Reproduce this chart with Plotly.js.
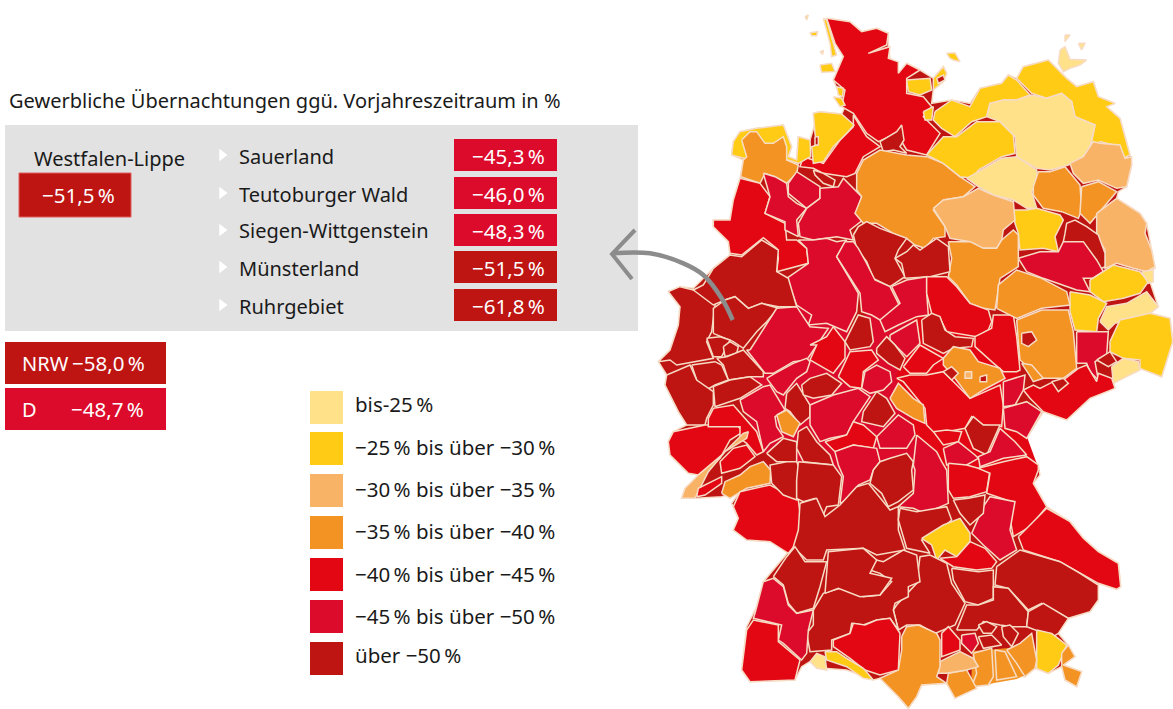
<!DOCTYPE html>
<html><head><meta charset="utf-8">
<script src="https://cdn.plot.ly/plotly-3.0.1.min.js"></script>
<style>html,body{margin:0;padding:0;background:#fff}#c{width:1173px;height:709px}</style>
</head><body><div id="c"></div>
<script>
// ---------- content ----------
const chartTitle = "Gewerbliche Übernachtungen ggü. Vorjahreszeitraum in %";
const regionName = "Westfalen-Lippe";
const regionValue = "−51,5\u2009%";
const subregions = ["Sauerland","Teutoburger Wald","Siegen-Wittgenstein","Münsterland","Ruhrgebiet"];
const subregionValues = ["−45,3\u2009%","−46,0\u2009%","−48,3\u2009%","−51,5\u2009%","−61,8\u2009%"];
const subregionClasses = [5,5,5,6,6];
const legendLabels = ["bis-25\u2009%","−25\u2009% bis über −30\u2009%","−30\u2009% bis über −35\u2009%","−35\u2009% bis über −40\u2009%","−40\u2009% bis über −45\u2009%","−45\u2009% bis über −50\u2009%","über −50\u2009%"];
const classColors = ["#ffe18a","#ffcb14","#f8b366","#f39323","#e30613","#dc0b2c","#be1513"];
const borderColor = "#f7dcc5";

// ---------- map outlines: [class, flat u,v list], u/v are map units ----------
const silhouette = [530,55,600,65,635,95,680,85,715,100,715,135,720,175,745,190,745,225,770,190,810,210,845,232,850,235,880,200,890,220,880,245,850,270,845,310,905,300,960,310,990,265,1055,250,1075,225,1100,235,1120,200,1195,180,1250,235,1280,260,1330,245,1345,290,1395,310,1370,320,1410,355,1440,465,1445,495,1430,560,1405,575,1400,595,1470,640,1490,670,1505,750,1515,805,1490,815,1525,920,1500,940,1560,955,1568,1025,1535,1130,1470,1105,1390,1150,1395,1165,1320,1195,1250,1260,1180,1235,1130,1315,1100,1295,1095,1315,1165,1395,1170,1425,1150,1450,1190,1520,1260,1565,1300,1615,1345,1655,1405,1690,1412,1760,1400,1768,1345,1750,1345,1800,1320,1835,1255,1855,1225,1900,1250,1930,1275,1970,1240,1995,1295,2015,1280,2060,1245,2040,1235,2000,1195,2020,1155,2005,1125,2030,1100,2030,1040,2040,1015,2055,965,2060,915,2095,890,2050,815,2055,800,2090,775,2125,745,2090,690,2035,670,2040,590,2010,520,2005,480,1985,455,2000,435,2040,300,2045,275,2010,290,1880,320,1820,340,1745,420,1650,360,1625,290,1620,250,1590,265,1555,245,1510,270,1475,215,1490,140,1495,95,1495,105,1465,150,1425,115,1420,60,1365,55,1325,70,1295,110,1275,85,1235,45,1155,50,1125,25,1085,60,1050,85,975,90,920,55,875,90,860,130,865,195,800,240,765,235,725,190,680,190,660,240,660,250,600,270,535,280,480,245,465,250,425,270,395,320,385,400,375,425,440,415,470,440,480,445,410,480,420,495,370,490,340,510,335,575,342,585,320,550,240,580,170,555,130];

// broad colour beds under the regions, so that slivers between outlines take the local colour
const underlays = [
 [5,[300,1055,440,920,600,995,725,865,830,830,830,1035,740,1135,800,1345,790,1420,555,1425,340,1355,270,1200]],
 [4,[830,830,1025,965,1110,1110,1060,1225,1130,1315,1165,1410,895,1425,800,1305,740,1135]],
 [3,[970,1955,1150,1940,1155,2005,1100,2035,1015,2050,965,2060]]
];

const regionsNorth = [
 [4,[530,55,600,65,635,95,680,85,715,100,710,135,655,160,720,140,715,175,745,185,745,220,770,190,810,210,770,235,770,280,820,290,845,320,820,350,870,400,830,465,770,450,740,400,685,425,650,400,610,340,575,320,585,270,550,240,580,170,555,130]],
 [4,[610,345,650,410,690,440,640,470,615,520,590,530,520,520,490,505,450,500,460,470,520,490,570,420,610,380]],
 [1,[520,55,530,60,560,165,545,170,540,130]],
 [1,[480,98,503,95,500,107,485,107]],[1,[465,50,475,45,470,60]],[1,[510,155,520,152,518,162]],
 [1,[510,195,545,190,555,215,515,217]],[1,[550,290,575,295,585,315,570,320]],[1,[560,260,580,265,578,290,565,285]],
 [1,[890,160,915,158,930,185,910,180,900,175]],[1,[770,240,840,235,845,270,810,285,775,275]],[1,[850,235,880,200,890,220,880,245,850,270]],
 [6,[860,235,880,225,885,240,865,250]],[1,[820,335,850,320,845,360,825,360]],
 [6,[690,425,740,395,755,375,762,420,750,440,770,460,730,450,700,455]],
 [1,[490,340,510,335,575,342,612,375,590,400,570,420,550,440,520,485,490,490,485,440,500,435,495,400]],
 [6,[495,410,505,410,505,435,495,435]],
 [1,[245,465,250,425,270,395,320,385,400,375,425,440,415,470,440,480,445,410,480,420,482,470,445,490,415,480,300,480]],
 [3,[275,420,300,395,320,395,345,430,370,430,400,410,410,440,410,480,445,495,440,520,410,550,375,530,345,520,330,550,272,530,280,480,290,470]],
 [4,[270,535,330,550,360,590,345,640,405,670,410,720,440,720,470,745,475,790,380,815,385,775,380,745,340,713,325,725,275,765,240,760,235,725,190,680,190,660,240,660,250,600]],
 [5,[340,520,375,530,410,550,415,590,440,610,470,625,440,660,445,710,405,690,405,665,345,640,360,590]],
 [5,[415,550,440,515,510,560,510,595,470,625,440,600,415,580]],
 [5,[510,565,565,560,580,535,610,565,635,590,620,640,645,655,600,690,610,720,560,710,530,715,490,720,450,710,445,670,470,625,510,595]],
 [6,[490,510,520,520,555,540,550,560,520,550,495,525]],
 [3,[620,520,640,480,690,450,770,465,830,470,880,490,930,530,975,560,940,590,880,600,850,630,885,680,885,710,850,715,825,745,795,735,770,715,730,700,680,670,640,670,615,640,635,590,620,570]],
 [1,[830,465,880,410,920,410,980,365,1050,365,1090,405,1095,460,1055,470,985,510,970,535,930,530,880,490]],
 [1,[855,335,905,300,960,320,990,265,1055,250,1075,225,1100,240,1140,285,1100,300,1060,300,1020,310,1010,350,965,365,915,410,875,385,850,360]],
 [1,[1100,235,1120,200,1195,180,1220,205,1250,235,1280,260,1330,245,1345,290,1395,310,1370,320,1410,355,1440,465,1420,475,1410,440,1350,425,1320,450,1335,375,1275,350,1265,305,1235,280,1190,295,1145,280]],
 [0,[1010,350,1020,310,1060,300,1100,300,1145,285,1190,295,1235,280,1265,305,1275,350,1335,375,1320,440,1300,470,1255,495,1200,510,1160,505,1100,470,1095,410,1050,365]],
 [0,[950,535,985,515,1055,475,1100,470,1160,510,1165,550,1145,575,1160,625,1130,625,1090,600,1030,585,985,560]],
 [0,[1230,150,1245,140,1260,178,1310,180,1290,195,1260,205,1240,215,1225,190]],[0,[1245,105,1260,105,1245,125]],[0,[1285,130,1305,130,1295,150]],
 [2,[1260,490,1300,470,1330,425,1350,430,1410,435,1425,475,1445,470,1445,495,1430,560,1400,565,1345,540,1300,550,1270,520]],
 [3,[1150,560,1165,515,1200,515,1245,500,1290,555,1295,630,1285,655,1235,635,1180,625,1150,585]],
 [3,[1295,560,1345,545,1400,575,1345,640,1320,670,1290,640]],
 [2,[1340,640,1400,595,1470,640,1490,670,1485,700,1505,750,1515,800,1490,815,1450,805,1400,790,1365,805,1365,750,1340,705]],
 [1,[1090,630,1130,630,1160,625,1230,645,1240,660,1215,710,1225,755,1180,745,1110,750,1105,700,1095,670]],
 [2,[850,625,880,600,940,590,985,565,1030,585,1090,605,1095,660,1060,690,1055,720,1040,745,1000,745,960,725,900,715,885,680]],
 [3,[895,725,960,725,1000,745,1040,745,1055,720,1090,690,1105,705,1105,800,1050,835,1035,930,1000,925,960,910,920,855,895,830,905,775]],
 [6,[610,705,625,680,650,665,690,685,770,715,745,750,735,775,765,830,720,860,670,835,650,785,620,745]],
 [6,[735,775,770,755,790,735,810,750,860,715,895,740,900,815,840,830,765,835,755,790]],
 [6,[1245,700,1250,670,1275,660,1310,680,1345,705,1365,760,1365,800,1345,810,1305,745,1240,725]]
];

const regionsMiddle = [
 [5,[410,130,475,85,470,40,445,15,490,15,530,10,560,20,590,15,560,65,625,175,620,230,590,290,530,265,475,270,485,240,440,210]],
 [5,[585,20,610,20,625,40,650,85,675,135,720,155,750,215,720,245,690,255,665,240,635,230,630,175,560,65]],
 [5,[725,155,770,135,830,125,830,175,835,240,800,245,745,270,705,290,690,255,750,205]],
 [4,[830,125,890,125,920,155,960,205,1015,225,1025,260,1015,285,980,305,890,290,875,260,845,235,830,175]],
 [4,[975,305,1025,280,1030,240,1090,240,1100,305,1110,405,1100,410,1060,410,1025,380,975,335]],
 [5,[1105,70,1170,50,1225,50,1240,20,1300,20,1340,75,1360,110,1330,130,1300,130,1320,170,1280,165,1180,130,1130,110]],
 [1,[1320,135,1390,90,1430,100,1470,110,1495,140,1470,175,1420,190,1360,200,1320,170]],
 [0,[1475,110,1510,105,1510,140,1495,145]],
 [0,[1350,260,1370,215,1430,205,1490,170,1525,215,1500,235,1450,250,1395,265,1375,285]],
 [1,[1260,170,1320,180,1370,205,1345,250,1340,290,1275,285,1260,230]],
 [3,[1040,220,1045,150,1100,105,1175,130,1250,170,1260,210,1175,220,1100,250]],
 [3,[1100,255,1175,225,1255,225,1270,290,1280,400,1240,430,1175,430,1110,375,1105,320]],
 [6,[1115,295,1145,290,1160,315,1135,335,1115,325]],
 [3,[1115,385,1145,390,1180,430,1150,440,1135,415]],
 [1,[1380,320,1410,255,1500,235,1560,250,1568,320,1535,425,1470,400,1470,375,1420,370,1380,350]],
 [0,[1385,395,1420,370,1465,380,1470,405,1430,425,1390,445]],
 [5,[1280,290,1340,290,1375,290,1370,360,1335,380,1345,435,1320,410,1310,385,1280,385]],
 [6,[1340,375,1380,350,1400,380,1375,395]],
 [4,[1120,465,1150,450,1170,460,1210,440,1240,435,1285,400,1310,390,1340,440,1345,415,1385,430,1395,460,1320,490,1250,555,1180,530,1140,490]],
 [6,[1205,440,1240,430,1255,445,1225,470]],
 [6,[55,170,90,155,130,165,190,185,195,210,185,290,170,320,190,370,80,390,60,375,25,380,60,345,85,270,90,215]],
 [6,[190,100,240,60,275,65,335,15,385,45,380,110,415,130,440,215,385,215,335,205,295,220,255,185,225,195,190,210,130,165,160,150]],
 [6,[190,295,190,220,225,195,255,185,295,220,335,205,385,220,350,260,320,290,280,340,250,320]],
 [6,[170,310,210,305,240,315,215,365,190,365]],[6,[220,335,240,320,265,335,260,355,225,365]],
 [6,[200,370,230,365,280,345,340,410,340,425,300,425,235,435,220,390]],
 [6,[125,390,195,380,215,390,235,435,195,450,160,470,140,435]],
 [6,[45,450,50,420,120,390,140,435,190,470,190,510,170,550,165,570,110,570,85,530]],
 [6,[190,455,240,435,300,425,335,450,270,490,195,515]],
 [5,[300,345,380,220,440,215,480,275,535,280,500,330,470,375,430,380,370,415,345,415,290,345]],
 [4,[480,330,530,305,550,275,585,320,585,370,550,415,480,375,500,330]],
 [6,[585,320,625,240,660,250,670,320,660,335,600,345]],
 [5,[720,300,800,255,810,325,770,365,720,315]],
 [6,[815,255,845,235,870,245,885,285,915,305,970,310,965,335,910,340,880,355,820,325]],
 [6,[680,340,710,305,735,330,765,370,750,405,715,385,680,355]],
 [4,[760,395,810,330,880,370,850,390,830,415,780,415]],
 [4,[740,430,780,420,830,420,880,410,930,460,960,490,1050,450,1060,510,1055,575,1000,570,965,545,945,580,890,590,850,590,830,570,825,520,760,440]],
 [3,[880,370,910,335,960,345,985,380,1050,400,1065,430,1000,465,960,490,930,450,915,430,880,390]],
 [6,[880,410,905,395,925,415,905,435]],[2,[945,410,965,410,965,430,945,430]],[6,[990,425,1010,420,1010,440,990,440]],
 [3,[720,490,745,445,790,490,820,510,825,565,790,550,740,520]],
 [5,[1060,440,1125,420,1120,465,1095,510,1060,515]],
 [5,[1060,520,1130,500,1175,530,1130,610,1100,590,1065,580]],
 [6,[945,580,970,545,1000,570,1050,570,1010,660,970,640]],
 [4,[850,590,890,585,935,590,925,620,880,630]],
 [5,[880,640,925,620,975,660,985,670,950,690,890,690]],
 [5,[1050,580,1095,620,1130,660,1060,670,990,695,985,665,1020,650]],
 [5,[270,495,340,455,360,450,405,525,375,545,380,575,400,605,360,625,340,650,320,560,280,530]],
 [5,[350,430,375,415,430,385,470,370,480,380,470,410,440,430,400,480,380,470]],
 [6,[410,475,440,445,480,510,480,545,450,570,420,530,405,520]],
 [6,[455,450,480,430,530,415,575,445,545,480,490,490,460,480]],
 [4,[565,425,600,350,665,345,685,375,640,410,635,460,600,455]],
 [5,[635,460,645,410,680,390,720,410,725,440,700,465,660,475]],
 [5,[480,510,550,480,625,460,660,485,630,530,610,560,590,600,540,610,510,620,480,570]],
 [6,[640,530,665,490,680,470,710,490,735,535,700,575,660,565,635,560]],
 [3,[380,540,410,525,450,565,430,605,395,590]],
 [5,[680,605,745,540,790,570,795,600,770,640,690,640]],
 [4,[525,620,590,600,610,560,640,570,680,605,670,640,610,630,555,650]],
 [4,[55,620,70,590,165,570,260,570,280,590,240,615,210,670,145,720,115,715,60,660]],
 [4,[175,550,190,520,250,510,285,550,320,590,330,620,340,650,320,660,290,625,270,610,270,575,175,575]],
 [2,[95,790,105,760,150,715,215,660,280,595,295,590,290,610,225,650,175,710,135,790]],
 [4,[210,680,250,640,290,630,315,665,270,700,215,715]],
 [6,[350,655,400,610,440,620,440,680,380,680]],
 [6,[445,590,470,575,500,620,540,660,550,690,460,680,440,640]]
];

const regionsSouth = [
 [3,[215,70,225,35,270,15,300,-10,340,-25,362,0,360,40,290,55,240,85]],
 [4,[140,80,145,55,215,20,215,40,165,75]],
 [4,[250,110,270,65,360,45,445,90,455,170,440,220,415,250,360,215,290,210,250,180,265,145]],
 [6,[365,40,360,-15,410,-25,440,-25,450,0,440,30,440,90,400,75]],
 [6,[445,-25,550,-15,575,20,565,105,530,110,520,135,495,85,460,95,440,85,440,30]],
 [5,[555,-55,610,-75,680,-65,690,-25,670,0,660,30,625,45,590,90,570,100,580,20,565,-15]],
 [6,[670,0,690,-25,720,-35,770,-50,790,-25,785,0,790,60,745,95,715,110,695,70,660,40]],
 [5,[800,-105,860,-55,875,-25,890,0,895,100,825,130,790,115,745,110,790,70,795,0,790,-15]],
 [4,[895,-20,950,-15,985,-5,1020,0,1010,65,960,80,910,85,895,60]],
 [4,[1060,-25,1130,-40,1165,-15,1165,0,1150,40,1190,110,1140,170,1090,200,1070,90,1010,70,1020,10,985,-5]],
 [5,[965,190,1000,110,1020,80,1095,95,1080,180,1100,240,1050,270,1000,225]],
 [6,[910,90,955,85,1005,75,1000,130,960,165,930,130]],
 [6,[450,100,500,85,525,140,570,105,620,50,655,40,720,120,745,110,745,180,765,240,680,255,640,235,530,240,520,270,470,270,430,230,445,180]],
 [6,[750,115,800,125,890,110,905,150,850,195,815,210,840,250,770,235,745,150]],
 [1,[815,205,880,165,930,145,960,190,960,215,920,260,885,240,860,270,845,225]],
 [4,[920,260,960,215,1005,235,1040,275,1025,295,980,300,910,290,870,265]],
 [4,[1105,200,1190,115,1260,155,1300,205,1345,245,1405,280,1412,350,1400,358,1345,340,1290,310,1230,275,1120,240]],
 [6,[1040,290,1110,240,1230,275,1290,310,1345,345,1345,390,1320,425,1255,445,1175,400,1135,420,1075,355,1035,345]],
 [6,[905,295,985,305,1030,300,1030,385,985,405,945,395,910,330]],
 [6,[740,405,800,340,810,260,840,255,890,280,905,340,945,400,915,465,855,490,810,465,770,465,745,480,730,420]],
 [6,[920,480,950,405,985,405,1030,390,1030,350,1075,355,1135,425,1130,470,1090,470,1050,465,1000,455,980,480]],
 [6,[1135,425,1180,400,1255,445,1225,490,1210,500,1155,480,1130,470]],
 [1,[1160,480,1205,490,1250,525,1225,585,1195,610,1160,595]],
 [3,[1235,550,1255,525,1275,560,1240,585,1295,605,1280,650,1245,630,1235,590]],
 [3,[1070,540,1110,520,1145,490,1160,570,1155,595,1125,620,1100,580]],
 [3,[1035,540,1065,545,1100,620,1040,630]],
 [3,[970,550,1025,535,1030,620,1015,645,965,650,980,610]],
 [3,[895,610,950,600,980,655,915,685,890,640]],
 [2,[870,575,930,545,970,565,985,590,950,600,890,610,865,610]],
 [3,[755,500,770,470,805,465,860,490,870,510,870,590,860,620,890,640,815,645,800,680,775,715,745,680,690,625,745,600,755,540]],
 [4,[875,490,895,470,930,510,930,540,875,560]],
 [5,[935,495,975,490,985,520,965,550,935,520]],
 [6,[985,465,1010,455,1040,470,1025,490,1000,490]],[6,[985,500,1025,495,1055,525,1000,535]],[6,[1055,470,1080,465,1105,490,1085,530,1060,500]],
 [6,[490,420,520,370,570,355,640,380,690,375,725,335,690,310,660,300,680,270,700,275,760,240,800,255,810,335,775,350,775,380,735,400,730,420,745,480,720,445,680,450,640,465,605,460,600,490,545,510,545,540,480,545,470,490,490,465]],
 [6,[525,370,535,245,640,235,680,270,660,310,725,325,690,375,630,380,565,355]],
 [6,[370,320,410,260,435,230,465,275,530,275,510,350,490,415,440,430,415,400,400,345]],
 [5,[315,430,340,335,370,325,400,350,415,405,440,430,490,420,475,480,470,550,455,570,400,520,385,510,395,465,310,445]],
 [4,[275,600,290,480,310,450,385,465,385,515,450,570,435,630,300,635]],
 [4,[550,510,600,490,610,460,645,465,680,450,720,445,750,490,745,600,690,615,645,600,600,565,550,530]],
 [1,[525,545,560,545,590,565,640,595,670,630,640,625,590,590,530,570]],
 [0,[480,575,500,550,525,560,530,600,500,595]]
];
const sheetOffsets = [0,705,1410];   // vertical start of each map sheet in map units

// ---------- arrow, map units ----------
const arrowShaftU = [-114,0,100,160,215,248];
const arrowShaftV = [760,760,790,825,895,960];
const arrowHeadU = [-45,-114,-54];
const arrowHeadV = [690,762,837];

// ---------- page geometry helpers ----------
const W = 1173, H = 709;
const px = x => x / W, py = y => 1 - y / H;
const rect = (x0,y0,x1,y1,fill,line) => ({type:"rect",xref:"paper",yref:"paper",x0:px(x0),x1:px(x1),y0:py(y0),y1:py(y1),fillcolor:fill,line:{width:line?1:0,color:line||fill},layer:"below"});
const FONT = "Noto Sans, sans-serif";
const label = (x,y,text,color,size,anchor) => ({xref:"paper",yref:"paper",x:px(x),y:py(y),text,showarrow:false,xanchor:anchor||"left",yanchor:"middle",font:{family:FONT,size:size||20,color:color||"#1a1a1a"},borderpad:0,borderwidth:0});

// ---------- traces ----------
const traces = [];
function addRegion(flat, cls, offset, lineColor){
  const xs=[],ys=[];
  for(let i=0;i<flat.length;i+=2){xs.push(flat[i]);ys.push(flat[i+1]+offset);}
  xs.push(xs[0]);ys.push(ys[0]);
  traces.push({type:"scatter",mode:"lines",x:xs,y:ys,fill:"toself",fillcolor:classColors[cls],
    line:{color:lineColor||borderColor,width:1.5},hoverinfo:"skip",showlegend:false});
}
addRegion(silhouette,6,0);
underlays.forEach(r=>addRegion(r[1],r[0],0,classColors[r[0]]));
[regionsNorth,regionsMiddle,regionsSouth].forEach((sheet,i)=>sheet.forEach(r=>addRegion(r[1],r[0],sheetOffsets[i])));
traces.push({type:"scatter",mode:"lines",x:arrowShaftU,y:arrowShaftV,line:{color:"#8c8c8c",width:4.5,shape:"spline"},hoverinfo:"skip",showlegend:false});
traces.push({type:"scatter",mode:"lines",x:arrowHeadU,y:arrowHeadV,line:{color:"#8c8c8c",width:4},hoverinfo:"skip",showlegend:false});

// ---------- panels ----------
const rowY = [155,193,230,267,305];
const shapes = [rect(5,125,638,331,"#e2e2e2")];
const annotations = [label(9,100,chartTitle)];
shapes.push(rect(19,173,131,217,classColors[6],"#e0605a"));
annotations.push(label(34,158,regionName),label(78,195,regionValue,"#fff",20.5,"center"));
subregions.forEach((n,i)=>{
  shapes.push(rect(454,rowY[i]-16,557,rowY[i]+16,classColors[subregionClasses[i]]));
  annotations.push(label(239,rowY[i]+1,n),label(508,rowY[i]+1,subregionValues[i],"#fff",20.5,"center"));
});
shapes.push(rect(5,342,166,384,classColors[6]),rect(5,388,166,430,classColors[5]));
annotations.push(label(22,363,"NRW","#fff"),label(72,363,"−58,0\u2009%","#fff",20.5),label(22,409,"D","#fff"),label(71,409,"−48,7\u2009%","#fff",20.5));
const swatchY = [391,432,474,516,558,600,642];
const legendTextY = [404,447,489,531,574,616,655];
legendLabels.forEach((t,i)=>{
  shapes.push(rect(310,swatchY[i],343,swatchY[i]+33,classColors[i]));
  annotations.push(label(355,legendTextY[i],t,null,20.5));
});
// bullets
const toU = x => (x-650)*3, toV = y => y*3;
traces.push({type:"scatter",mode:"markers",x:rowY.map(()=>toU(222)),y:rowY.map(y=>toV(y)),
  marker:{symbol:"triangle-right",size:11,color:"#fff",line:{width:0}},hoverinfo:"skip",showlegend:false});

Plotly.newPlot("c",traces,{
  width:W,height:H,margin:{l:0,r:0,t:0,b:0,pad:0},paper_bgcolor:"#fff",plot_bgcolor:"rgba(0,0,0,0)",showlegend:false,
  xaxis:{range:[-1950,1569],visible:false,fixedrange:true},
  yaxis:{range:[2127,0],visible:false,fixedrange:true},
  shapes,annotations
},{displayModeBar:false,staticPlot:true});
</script></body></html>
